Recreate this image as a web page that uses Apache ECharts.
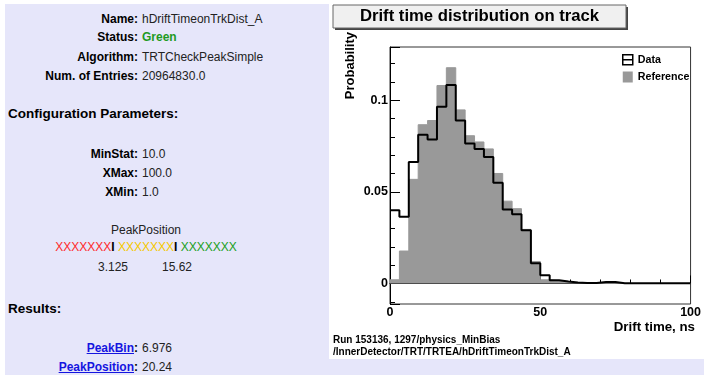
<!DOCTYPE html>
<html>
<head>
<meta charset="utf-8">
<script src="https://cdn.jsdelivr.net/npm/echarts@6/dist/echarts.min.js"></script>
<style>
  html, body { margin: 0; padding: 0; background: #fff; }
  body { width: 704px; height: 375px; position: relative; overflow: hidden;
         font-family: "Liberation Sans", Arial, Helvetica, sans-serif; }
  .panel { position: absolute; left: 5px; top: 4px; width: 699px; height: 371px; background: #e6e6fa; }
  .key { position: absolute; left: 0; width: 138px; text-align: right; font-weight: bold;
         color: #000; font-size: 12px; line-height: 14px; white-space: nowrap; }
  .val { position: absolute; left: 142px; font-size: 12px; line-height: 14px; color: #222; white-space: nowrap; }
  .head { position: absolute; left: 8px; font-size: 13.5px; line-height: 16px; font-weight: bold; color: #000; }
  .center { position: absolute; text-align: center; font-size: 12px; line-height: 14px; color: #222; white-space: nowrap; }
  .key a { color: #1515e0; text-decoration: underline; }
  #chart { position: absolute; left: 329px; top: 0; width: 375px; height: 359px; background: #fff; }
</style>
</head>
<body>
<div class="panel"></div>

<div class="key" style="top:12px">Name:</div>
<div class="val" style="top:12px">hDriftTimeonTrkDist_A</div>
<div class="key" style="top:30px">Status:</div>
<div class="val" style="top:30px;color:#1f9a1f;font-weight:bold">Green</div>
<div class="key" style="top:50px">Algorithm:</div>
<div class="val" style="top:50px">TRTCheckPeakSimple</div>
<div class="key" style="top:69px">Num. of Entries:</div>
<div class="val" style="top:69px">20964830.0</div>

<div class="head" style="top:106px">Configuration Parameters:</div>

<div class="key" style="top:147px">MinStat:</div>
<div class="val" style="top:147px">10.0</div>
<div class="key" style="top:166px">XMax:</div>
<div class="val" style="top:166px">100.0</div>
<div class="key" style="top:185px">XMin:</div>
<div class="val" style="top:185px">1.0</div>

<div class="center" style="left:46px;width:200px;top:223px">PeakPosition</div>
<div class="center" style="left:16px;width:260px;top:240px"><span style="color:#ff2a2a">XXXXXXX</span><b style="color:#000">I</b> <span style="color:#f5c800">XXXXXXX</span><b style="color:#000">I</b> <span style="color:#22a022">XXXXXXX</span></div>
<div class="center" style="left:63px;width:100px;top:260px">3.125</div>
<div class="center" style="left:127px;width:100px;top:260px">15.62</div>

<div class="head" style="top:301px">Results:</div>

<div class="key" style="top:341px"><a>PeakBin</a>:</div>
<div class="val" style="top:341px">6.976</div>
<div class="key" style="top:360px"><a>PeakPosition</a>:</div>
<div class="val" style="top:360px">20.24</div>

<div id="chart"></div>

<script>
// bins of 3.125 ns from 0 to 100 ns
const BIN_WIDTH = 3.125;

// Data histogram (black line)
const dataProb = [
  0.0400, 0.0364, 0.0663, 0.0811, 0.0786, 0.0964, 0.1083, 0.0889,
  0.0764, 0.0734, 0.0690, 0.0550, 0.0404, 0.0377, 0.0290, 0.0110,
  0.0045, 0.0018, 0.0011, 0.0005, 0.0003, 0.0003, 0.0008, 0.0008,
  0.0001, 0.0001, 0.0001, 0.0001, 0.0001, 0.0001, 0.0001, 0.0001
];

// Reference histogram (grey fill)
const refProb = [
  0.0020, 0.0177, 0.0568, 0.0866, 0.0889, 0.1080, 0.1177, 0.0947,
  0.0806, 0.0772, 0.0734, 0.0600, 0.0449, 0.0408, 0.0295, 0.0120,
  0.0020, 0.0015, 0.0010, 0.0004, 0.0002, 0.0002, 0.0002, 0.0002,
  0.0000, 0.0000, 0.0000, 0.0000, 0.0000, 0.0000, 0.0000, 0.0000
];

const xRange = [0, 100];
const yRange = [-0.0112, 0.129];
const xMajor = 50, xMinor = 10;
const yMajor = 0.05, yMinor = 0.01;

const FONT = '"Liberation Sans", Arial, Helvetica, sans-serif';

// left bin edges + closing point so that step:'end' draws each bin flat
function toSteps(vals) {
  const pts = vals.map((v, i) => [i * BIN_WIDTH, v]);
  pts.push([vals.length * BIN_WIDTH, vals[vals.length - 1]]);
  return pts;
}

function majorLabel(step) {
  return v => {
    const k = v / step;
    if (Math.abs(k - Math.round(k)) > 1e-6) return '';
    return String(+(Math.round(k) * step).toFixed(3));
  };
}

const chart = echarts.init(document.getElementById('chart'), null, { renderer: 'canvas' });

const option = {
  animation: false,
  backgroundColor: '#fff',
  grid: {
    left: 61, right: 12, top: 47, bottom: 55,
    show: true, borderColor: '#333', borderWidth: 1, backgroundColor: '#fff'
  },
  xAxis: [
    {
      type: 'value', min: xRange[0], max: xRange[1],
      minInterval: xMajor, maxInterval: xMajor, splitNumber: 2,
      axisLine: { lineStyle: { color: '#000', width: 1 } },
      axisTick: { inside: true, length: 8, lineStyle: { color: '#000' } },
      axisLabel: { color: '#000', fontWeight: 'bold', fontSize: 12.5, margin: 2, fontFamily: FONT,
                   formatter: majorLabel(xMajor) },
      splitLine: { show: false }
    },
    {
      type: 'value', position: 'bottom', min: xRange[0], max: xRange[1],
      minInterval: xMinor, maxInterval: xMinor, splitNumber: 10,
      axisLine: { show: false },
      axisTick: { inside: true, length: 4, lineStyle: { color: '#000' } },
      axisLabel: { show: false },
      splitLine: { show: false }
    }
  ],
  yAxis: [
    {
      type: 'value', min: yRange[0], max: yRange[1],
      minInterval: yMajor, maxInterval: yMajor, splitNumber: 3,
      axisLine: { show: true, lineStyle: { color: '#000', width: 1 } },
      axisTick: { show: true, inside: true, length: 10, lineStyle: { color: '#000' } },
      axisLabel: { color: '#000', fontWeight: 'bold', fontSize: 12.5, margin: 2, fontFamily: FONT,
                   formatter: majorLabel(yMajor) },
      splitLine: { show: false }
    },
    {
      type: 'value', position: 'left', offset: 0, min: yRange[0], max: yRange[1],
      minInterval: yMinor, maxInterval: yMinor, splitNumber: 14,
      axisLine: { show: false },
      axisTick: { show: true, inside: true, length: 5, lineStyle: { color: '#000' } },
      axisLabel: { show: false },
      splitLine: { show: false }
    }
  ],
  legend: {
    orient: 'vertical', left: 293, top: 54, padding: 0,
    itemGap: 6, itemWidth: 10, itemHeight: 11,
    selectedMode: false,
    textStyle: { fontSize: 10.7, fontWeight: 'bold', color: '#000', fontFamily: FONT },
    data: [
      { name: 'Data', icon: 'path://M0,0L10,0L10,10L0,10Z M0,5L10,5',
        itemStyle: { color: 'rgba(0,0,0,0)', borderColor: '#000', borderWidth: 1.5 } },
      { name: 'Reference', icon: 'rect', itemStyle: { color: '#999', borderWidth: 0 } }
    ]
  },
  series: [
    {
      name: 'Reference', type: 'line', step: 'end', symbol: 'none',
      xAxisIndex: 0, yAxisIndex: 0,
      data: toSteps(refProb),
      lineStyle: { color: '#999', width: 1 },
      itemStyle: { color: '#999' },
      areaStyle: { color: '#999', opacity: 1 },
      z: 2
    },
    {
      name: 'Data', type: 'line', step: 'end', symbol: 'none',
      xAxisIndex: 0, yAxisIndex: 0,
      data: toSteps(dataProb),
      lineStyle: { color: '#000', width: 2 },
      itemStyle: { color: '#000' },
      z: 3
    }
  ],
  graphic: [
    // title pave with shadow
    { type: 'rect', shape: { x: 6, y: 7, width: 293, height: 23 }, style: { fill: '#444' } },
    { type: 'rect', shape: { x: 4, y: 5, width: 293, height: 23 },
      style: { fill: '#f0f0f0', stroke: '#666', lineWidth: 1 } },
    { type: 'text', x: 150.5, y: 16.5,
      style: { text: 'Drift time distribution on track', align: 'center', verticalAlign: 'middle',
               font: 'bold 16.7px ' + FONT, fill: '#000' } },
    // axis titles
    { type: 'text', x: 21.5, y: 32, rotation: Math.PI / 2,
      style: { text: 'Probability', align: 'right', verticalAlign: 'middle',
               font: 'bold 13px ' + FONT, fill: '#000' } },
    { type: 'text', x: 366, y: 327,
      style: { text: 'Drift time, ns', align: 'right', verticalAlign: 'middle',
               font: 'bold 13.3px ' + FONT, fill: '#000' } },
    // run info
    { type: 'text', x: 4, y: 340.5,
      style: { text: 'Run 153136, 1297/physics_MinBias', align: 'left', verticalAlign: 'middle',
               font: 'bold 10px ' + FONT, fill: '#000' } },
    { type: 'text', x: 4, y: 352,
      style: { text: '/InnerDetector/TRT/TRTEA/hDriftTimeonTrkDist_A', align: 'left', verticalAlign: 'middle',
               font: 'bold 10px ' + FONT, fill: '#000' } }
  ]
};

chart.setOption(option);
</script>
</body>
</html>
